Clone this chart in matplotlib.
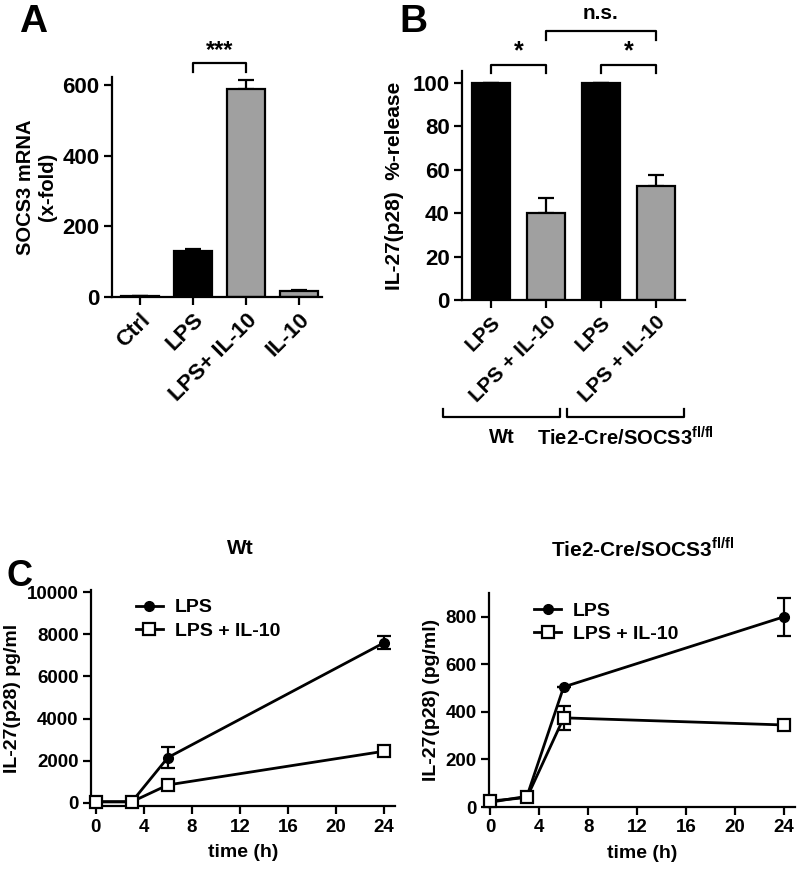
import numpy as np
import matplotlib
matplotlib.use('Agg')
import matplotlib.pyplot as plt

plt.rcParams['font.family'] = ['Liberation Sans', 'DejaVu Sans']
plt.rcParams['font.weight'] = 'bold'
plt.rcParams['mathtext.fontset'] = 'custom'
plt.rcParams['mathtext.rm'] = 'Liberation Sans:bold'
plt.rcParams['mathtext.bf'] = 'Liberation Sans:bold'
plt.rcParams['axes.linewidth'] = 1.6
plt.rcParams['xtick.major.width'] = 1.6
plt.rcParams['ytick.major.width'] = 1.6

# panel A data
a_labels = ['Ctrl', 'LPS', 'LPS+ IL-10', 'IL-10']
a_vals = [2, 130, 590, 18]
a_err = [0, 5, 25, 2]
a_colors = ['white', 'black', '#a0a0a0', '#a0a0a0']

# panel B data
b_labels = ['LPS', 'LPS + IL-10', 'LPS', 'LPS + IL-10']
b_vals = [100, 40, 100, 52.5]
b_err = [0, 7, 0, 5]
b_colors = ['black', '#a0a0a0', 'black', '#a0a0a0']

# panel C data
times = [0, 3, 6, 24]
wt_lps = [50, 50, 2150, 7600]
wt_lps_err = [0, 0, 500, 300]
wt_il10 = [50, 50, 850, 2450]
wt_il10_err = [0, 0, 0, 0]
ko_lps = [20, 45, 505, 800]
ko_lps_err = [0, 0, 0, 80]
ko_il10 = [25, 40, 375, 345]
ko_il10_err = [0, 0, 50, 0]

W, H = 800, 874
fig = plt.figure(figsize=(8, 8.74), dpi=100)

def ax_px(l, r, top, bot):
    return fig.add_axes([l / W, 1 - bot / H, (r - l) / W, (bot - top) / H])

def style(ax, fs):
    ax.spines['top'].set_visible(False)
    ax.spines['right'].set_visible(False)
    ax.tick_params(labelsize=fs, length=6, pad=3)
    for t in ax.get_xticklabels() + ax.get_yticklabels():
        t.set_fontweight('bold')

def bracket(ax, x1, x2, y, tip, text, ty, fs):
    ax.plot([x1, x1, x2, x2], [y - tip, y, y, y - tip], color='black', lw=1.6, clip_on=False)
    if text:
        ax.text((x1 + x2) / 2, ty, text, ha='center', va='center', fontsize=fs, fontweight='bold')

# ---- A ----
axA = ax_px(112, 322, 77, 297)
xa = np.arange(len(a_vals))
axA.bar(xa, a_vals, width=0.72, color=a_colors, edgecolor='black', linewidth=1.6, zorder=2)
axA.errorbar(xa, a_vals, yerr=[np.zeros(4), a_err], fmt='none', ecolor='black',
             elinewidth=1.6, capsize=6, capthick=1.6, zorder=1)
axA.set_xlim(-0.53, 3.43)
axA.set_ylim(0, 623)
axA.set_yticks([0, 200, 400, 600])
axA.set_xticks(xa)
axA.set_xticklabels(a_labels, rotation=45, ha='right', rotation_mode='anchor')
style(axA, 16)
axA.set_ylabel('SOCS3 mRNA\n(x-fold)', fontsize=14.5, fontweight='bold', labelpad=4)
bracket(axA, 1, 2, 662, 25, '***', 697, 17)

# ---- B ----
axB = ax_px(462, 685, 71, 300)
xb = np.arange(len(b_vals))
axB.bar(xb, b_vals, width=0.7, color=b_colors, edgecolor='black', linewidth=1.6, zorder=2)
axB.errorbar(xb, b_vals, yerr=[np.zeros(4), b_err], fmt='none', ecolor='black',
             elinewidth=1.6, capsize=6, capthick=1.6, zorder=1)
axB.set_xlim(-0.53, 3.53)
axB.set_ylim(0, 105.5)
axB.set_yticks(np.arange(0, 101, 20))
axB.set_xticks(xb)
axB.set_xticklabels(b_labels, rotation=45, ha='right', rotation_mode='anchor')
style(axB, 16)
for t in axB.get_xticklabels():
    t.set_fontsize(15)
axB.set_ylabel('IL-27(p28)  %-release', fontsize=15, fontweight='bold', labelpad=6)
bracket(axB, 0, 1, 108.3, 3.7, '*', 114.5, 18)
bracket(axB, 2, 3, 108.3, 3.7, '*', 114.5, 18)
bracket(axB, 1, 3, 124, 4.2, 'n.s.', 132, 15)
# group brackets under the labels
gy, gt = -54, 3.7
bracket(axB, -0.87, 1.25, gy, -gt, '', gy, 14)
bracket(axB, 1.38, 3.51, gy, -gt, '', gy, 14)
axB.text(0.2, -63.5, 'Wt', ha='center', va='center', fontsize=14.5, fontweight='bold', clip_on=False)
axB.text(2.45, -63.5, r'Tie2-Cre/SOCS3$^{\mathbf{fl/fl}}$', ha='center', va='center',
         fontsize=14.5, fontweight='bold', clip_on=False)

# ---- C ----
def line_panel(ax, lps, lps_err, il, il_err, ylim, yticks, ylabel):
    ax.errorbar(times, lps, yerr=lps_err, color='black', lw=2, marker='o', ms=7,
                mfc='black', mec='black', capsize=5, elinewidth=1.6, capthick=1.6,
                label='LPS', clip_on=False, zorder=3)
    ax.errorbar(times, il, yerr=il_err, color='black', lw=2, marker='s', ms=8,
                mfc='white', mec='black', mew=1.6, capsize=5, elinewidth=1.6, capthick=1.6,
                label='LPS + IL-10', clip_on=False, zorder=4)
    ax.set_ylim(*ylim)
    ax.set_yticks(yticks)
    ax.set_xticks([0, 4, 8, 12, 16, 20, 24])
    style(ax, 13.5)
    ax.set_xlabel('time (h)', fontsize=14, fontweight='bold', labelpad=6)
    ax.set_ylabel(ylabel, fontsize=14, fontweight='bold', labelpad=4)
    h, l = ax.get_legend_handles_labels()
    h = [x[0] for x in h]
    leg = ax.legend(h, l, loc='upper left', bbox_to_anchor=(0.09, 1.04), frameon=False,
                    fontsize=14, handlelength=1.4, handletextpad=0.6, labelspacing=0.3)
    for t in leg.get_texts():
        t.set_fontweight('bold')

axC1 = ax_px(91, 395, 590, 806)
axC1.set_xlim(-0.4, 24.9)
line_panel(axC1, wt_lps, wt_lps_err, wt_il10, wt_il10_err, (-150, 10100),
           np.arange(0, 10001, 2000), 'IL-27(p28) pg/ml')

axC2 = ax_px(489, 795, 593, 807)
axC2.set_xlim(-0.1, 24.9)
line_panel(axC2, ko_lps, ko_lps_err, ko_il10, ko_il10_err, (0, 900),
           np.arange(0, 801, 200), 'IL-27(p28) (pg/ml)')

fig.text(240 / W, 1 - 549 / H, 'Wt', ha='center', va='center', fontsize=15, fontweight='bold')
fig.text(643 / W, 1 - 549 / H, r'Tie2-Cre/SOCS3$^{\mathbf{fl/fl}}$', ha='center', va='center',
         fontsize=15, fontweight='bold')

# panel letters
fig.text(33 / W, 1 - 22 / H, 'A', ha='center', va='center', fontsize=28, fontweight='bold')
fig.text(413 / W, 1 - 22 / H, 'B', ha='center', va='center', fontsize=28, fontweight='bold')
fig.text(20 / W, 1 - 576 / H, 'C', ha='center', va='center', fontsize=26, fontweight='bold')

fig.savefig('out.png', dpi=100)
